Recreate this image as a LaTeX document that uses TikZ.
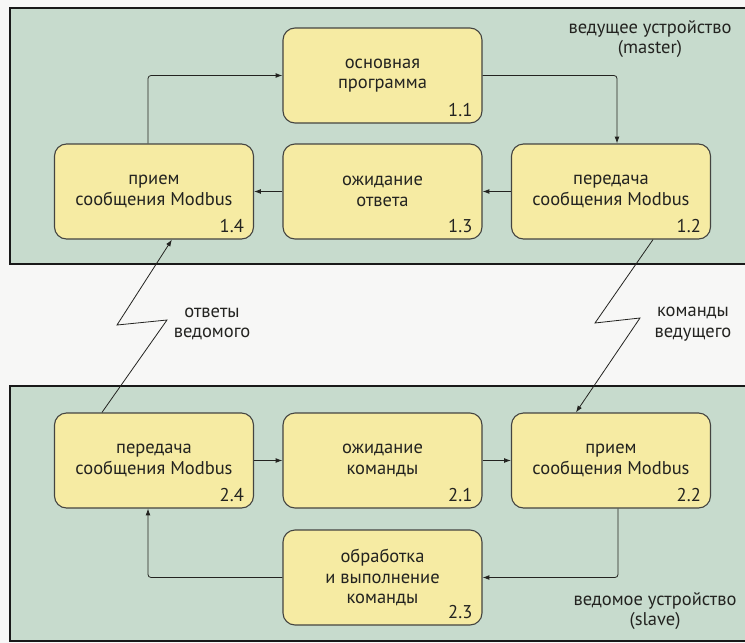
\documentclass[tikz,border=0pt]{standalone}
\usepackage{fontspec}
\setmainfont{PT Sans}
\usetikzlibrary{arrows.meta,positioning}
\definecolor{panelgreen}{HTML}{C7DBCD}
\definecolor{boxyellow}{HTML}{F6EBA3}
\definecolor{ink}{HTML}{232320}
\definecolor{paper}{HTML}{F7F7F6}
\tikzset{
  pnl/.style={draw=black!90,fill=panelgreen,line width=2.4pt},
  blk/.style={rectangle,rounded corners=12pt,draw=ink!85,fill=boxyellow,line width=1.1pt,
    minimum width=199pt,minimum height=95pt,inner sep=0pt,align=center,
    font=\fontsize{18.5}{20.5}\selectfont,text=ink},
  num/.style={anchor=south east,inner sep=0pt,font=\fontsize{18.5}{20}\selectfont,text=ink},
  msg/.style={-{Latex[length=2.4mm,width=1.7mm]},line width=.8pt,draw=ink,rounded corners=3pt},
  zz/.style={-{Latex[length=2.4mm,width=1.7mm]},line width=.8pt,draw=ink},
  lb/.style={align=center,inner sep=0pt,font=\fontsize{18.5}{20.5}\selectfont,text=ink},
}
\begin{document}
\begin{tikzpicture}[x=1pt,y=-1pt]
\useasboundingbox (0,0) rectangle (745,643);
\fill[paper] (0,0) rectangle (745,643);
% the two devices
\draw[pnl] (10,8) rectangle (770,264);
\draw[pnl] (10,386) rectangle (770,641);
\node[lb] (mst) at (650,39) {ведущее устройство\\(master)};
\node[lb] (slv) at (655,611) {ведомое устройство\\(slave)};
% --- master
\node[blk] (b11) at (382.5,75.5) {основная\\программа};
\node[blk] (b12) at (611,191.5) {передача\\сообщения Modbus};
\node[blk] (b13) at (382.5,191.5) {ожидание\\ответа};
\node[blk] (b14) at (154,191.5) {прием\\сообщения Modbus};
% --- slave
\node[blk] (b21) at (382.5,460.5) {ожидание\\команды};
\node[blk] (b22) at (611,460.5) {прием\\сообщения Modbus};
\node[blk] (b23) at (382.5,577.5) {обработка\\и выполнение\\команды};
\node[blk] (b24) at (154,460.5) {передача\\сообщения Modbus};
\foreach \b/\t in {b11/1.1,b12/1.2,b13/1.3,b14/1.4,b21/2.1,b22/2.2,b23/2.3,b24/2.4}{
  \node[num] (n\b) at ([xshift=-10pt,yshift=7pt]\b.south east) {\t};
}
% flow inside each device
\draw[msg] (b11.east) -| ([xshift=6pt]b12.north);
\draw[msg] (b12) -- (b13);
\draw[msg] (b13) -- (b14);
\draw[msg] ([xshift=-6pt]b14.north) |- (b11.west);
\draw[msg] (b24) -- (b21);
\draw[msg] (b21) -- (b22);
\draw[msg] ([xshift=7pt]b22.south) |- (b23.east);
\draw[msg] (b23.west) -| ([xshift=-6pt]b24.south);
% the line between them
\coordinate (ra) at (595,323);
\coordinate (rb) at (640,318);
\coordinate (la) at (167,320);
\coordinate (lb) at (117,325);
\draw[zz] ([xshift=-58pt]b12.south east) -- (ra) -- (rb) -- ([xshift=65pt]b22.north west);
\draw[zz] ([xshift=48pt]b24.north west) -- (la) -- (lb) -- ([xshift=118pt]b14.south west);
\node[lb] (ans) at (212,324) {ответы\\ведомого};
\node[lb] (cmd) at (693,324) {команды\\ведущего};
\end{tikzpicture}
\end{document}
